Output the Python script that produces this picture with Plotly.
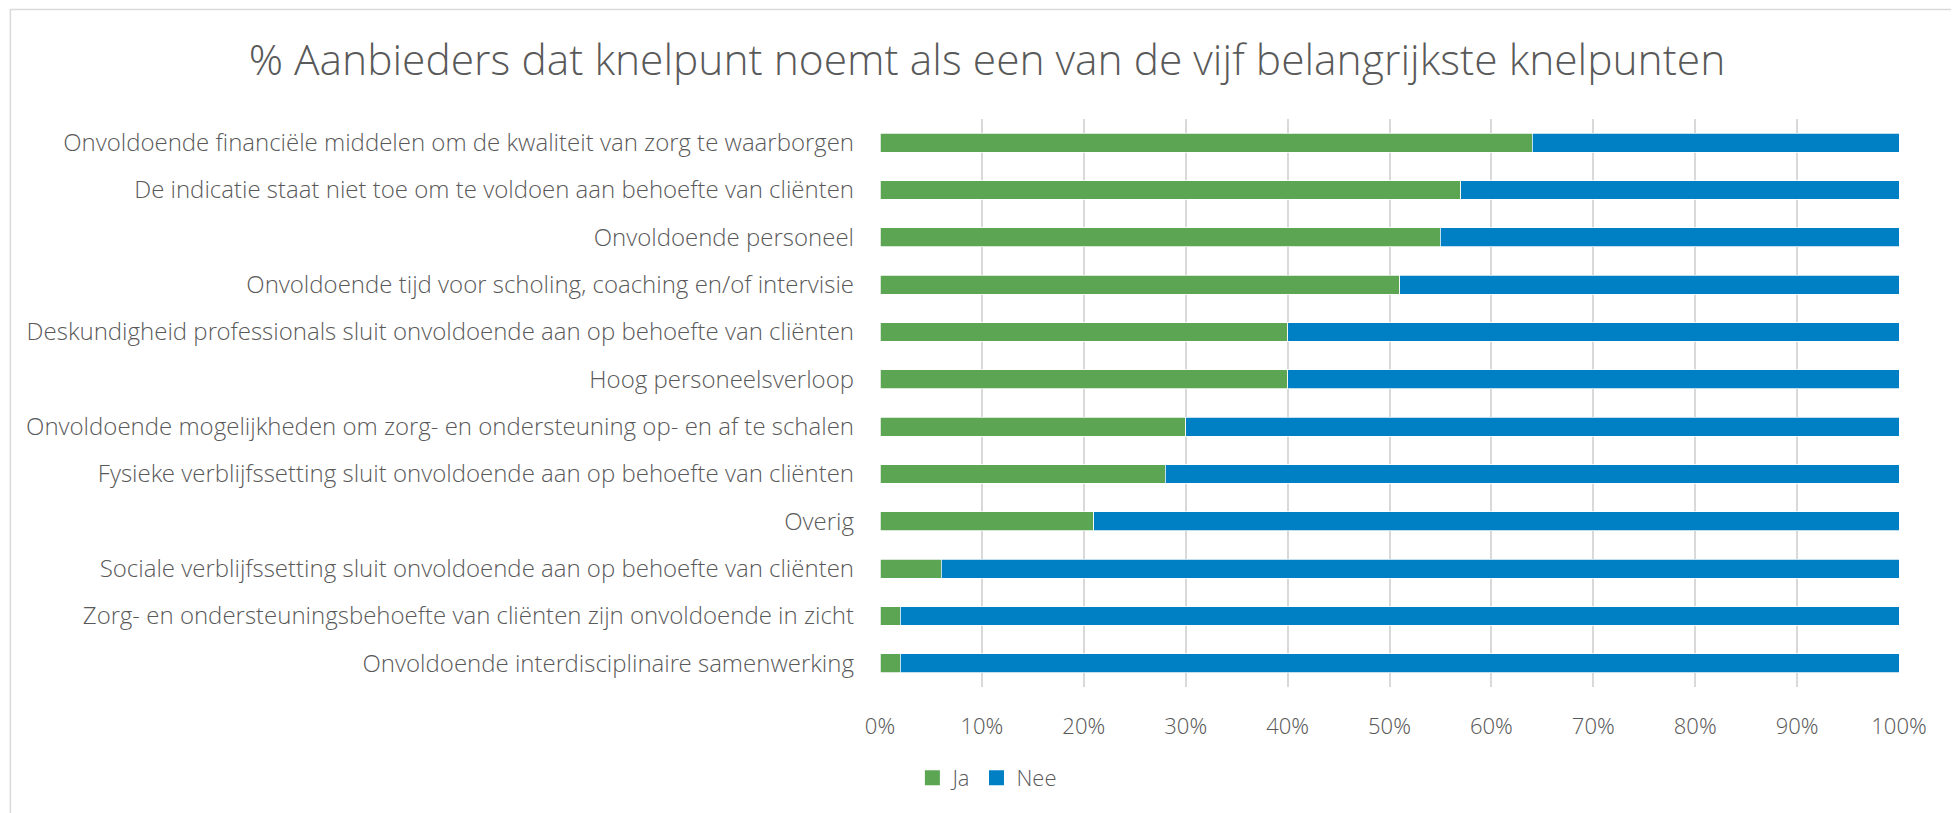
import plotly.graph_objects as go

categories = [
    "Onvoldoende financiële middelen om de kwaliteit van zorg te waarborgen",
    "De indicatie staat niet toe om te voldoen aan behoefte van cliënten",
    "Onvoldoende personeel",
    "Onvoldoende tijd voor scholing, coaching en/of intervisie",
    "Deskundigheid professionals sluit onvoldoende aan op behoefte van cliënten",
    "Hoog personeelsverloop",
    "Onvoldoende mogelijkheden om zorg- en ondersteuning op- en af te schalen",
    "Fysieke verblijfssetting sluit onvoldoende aan op behoefte van cliënten",
    "Overig",
    "Sociale verblijfssetting sluit onvoldoende aan op behoefte van cliënten",
    "Zorg- en ondersteuningsbehoefte van cliënten zijn onvoldoende in zicht",
    "Onvoldoende interdisciplinaire samenwerking",
]
ja = [64, 57, 55, 51, 40, 40, 30, 28, 21, 6, 2, 2]
nee = [36, 43, 45, 49, 60, 60, 70, 72, 79, 94, 98, 98]
tick_vals = [0, 10, 20, 30, 40, 50, 60, 70, 80, 90, 100]
tick_text = ["0%", "10%", "20%", "30%", "40%", "50%", "60%", "70%", "80%", "90%", "100%"]
series_names = ["Ja", "Nee"]
series_colors = ["#5BA553", "#0080C4"]

FONT = "Open Sans Light, Open Sans"
GRAY = "#595959"

fig = go.Figure()
for name, vals, col in zip(series_names, [ja, nee], series_colors):
    fig.add_trace(go.Bar(y=categories, x=vals, name=name, orientation="h", showlegend=False,
                         legendgroup=name,
                         marker=dict(color=col, line=dict(color="white", width=0.75))))
# legend entries with larger square swatches
for name, col in zip(series_names, series_colors):
    fig.add_trace(go.Scatter(x=[None], y=[None], mode="markers", name=name, legendgroup=name,
                             marker=dict(symbol="square", size=15, color=col)))

W, H = 1959, 813
OFF = 8  # page body margin
L, R, T, B = 879.5 - OFF, 1899.5 - OFF, 118.7 - OFF, 687.1 - OFF
pw, ph = R - L, B - T

fig.update_layout(
    width=W, height=H,
    barmode="stack", bargap=0.6,
    plot_bgcolor="white", paper_bgcolor="white",
    margin=dict(l=L, r=W - R, t=T, b=H - B, autoexpand=False),
    title=dict(text="% Aanbieders dat knelpunt noemt als een van de vijf belangrijkste knelpunten",
               x=(987 - OFF) / W, xanchor="center", y=1 - (60 - OFF) / H, yanchor="middle",
               font=dict(family=FONT, size=42.5, color=GRAY, weight=300)),
    font=dict(family=FONT, color=GRAY),
    xaxis=dict(range=[0, 100], tickvals=tick_vals, ticktext=tick_text,
               showgrid=True, gridcolor="#D9D9D9", gridwidth=1.5,
               zeroline=False, showline=False, ticks="",
               tickfont=dict(family=FONT, size=22, color=GRAY, weight=300),
               ticklabelstandoff=24, fixedrange=True),
    yaxis=dict(autorange="reversed", showgrid=False, zeroline=False, ticks="",
               tickfont=dict(family=FONT, size=24, color=GRAY, weight=300),
               ticklabelstandoff=25, fixedrange=True),
    legend=dict(orientation="h", x=(987 - OFF - L) / pw, xanchor="center",
                y=(B - (778 - OFF)) / ph, yanchor="middle",
                font=dict(family=FONT, size=22, color=GRAY, weight=300),
                itemwidth=30, traceorder="normal"),
    shapes=[dict(type="rect", xref="paper", yref="paper",
                 x0=(1 - L) / pw, x1=(1949 - L) / pw,
                 y0=(B - 830) / ph, y1=(B - 1) / ph,
                 line=dict(color="#D9D9D9", width=1.5), fillcolor="rgba(0,0,0,0)",
                 layer="below")],
)

fig.write_html("out.html")
